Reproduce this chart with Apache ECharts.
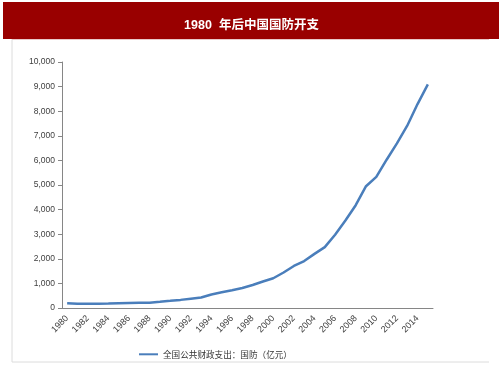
<!DOCTYPE html>
<html>
<head>
<meta charset="utf-8">
<script src="https://cdn.jsdelivr.net/npm/echarts@6/dist/echarts.min.js"></script>
<style>
  html, body { margin: 0; padding: 0; background: #fff; }
  #chart { width: 503px; height: 378px; }
</style>
</head>
<body>
<div id="chart"></div>
<script>
// 全国公共财政支出：国防（亿元）
const years = ['1980','1981','1982','1983','1984','1985','1986','1987','1988','1989',
  '1990','1991','1992','1993','1994','1995','1996','1997','1998','1999',
  '2000','2001','2002','2003','2004','2005','2006','2007','2008','2009',
  '2010','2011','2012','2013','2014','2015']
const defense = [194, 168, 176, 177, 181, 192, 201, 210, 218, 251,
  290, 330, 378, 426, 551, 637, 720, 813, 935, 1076,
  1208, 1442, 1708, 1908, 2200, 2475, 2979, 3555, 4179, 4951,
  5333, 6028, 6692, 7411, 8290, 9088]
const seriesName = '全国公共财政支出：国防（亿元）'

const chart = echarts.init(document.getElementById('chart'), null, { renderer: 'canvas' })

chart.setOption({
  animation: false,
  textStyle: { fontFamily: '"Liberation Sans", Arial, "Noto Sans CJK SC", sans-serif' },
  title: {
    text: '1980  年后中国国防开支',
    left: 'center',
    top: 14,
    textStyle: { color: '#fff', fontSize: 12.5, fontWeight: 'bold',
      fontFamily: '"Liberation Sans", Arial, "Noto Sans CJK SC", sans-serif' }
  },
  graphic: [
    { type: 'rect', z: -1, shape: { x: 3, y: 2, width: 496, height: 37 },
      style: { fill: '#990000' } },
    { type: 'polyline', shape: { points: [[12, 39], [12, 362], [489, 362]] },
      style: { stroke: '#dcdcdc', lineWidth: 1, fill: null } },
    { type: 'line', shape: { x1: 12, y1: 39.5, x2: 489, y2: 39.5 },
      style: { stroke: '#e8c8c8', lineWidth: 1 } }
  ],
  grid: { left: 62, right: 70, top: 62, bottom: 70 },
  legend: {
    data: [seriesName],
    left: 134,
    top: 345,
    icon: 'rect',
    itemWidth: 19,
    itemHeight: 2,
    itemGap: 2,
    textStyle: { fontSize: 8.6, color: '#333', fontFamily: '"Noto Sans CJK SC", sans-serif' }
  },
  xAxis: {
    type: 'category',
    data: years,
    boundaryGap: true,
    axisLine: { lineStyle: { color: '#868686', width: 1 } },
    axisTick: { interval: 1, length: 4, lineStyle: { color: '#868686' } },
    axisLabel: { interval: 1, rotate: 45, fontSize: 9, color: '#404040', margin: 9 }
  },
  yAxis: {
    type: 'value',
    min: 0,
    max: 10000,
    interval: 1000,
    axisLine: { show: true, lineStyle: { color: '#868686', width: 1 } },
    axisTick: { show: true, length: 4, lineStyle: { color: '#868686' } },
    splitLine: { show: false },
    axisLabel: {
      fontSize: 8.5, color: '#404040', margin: 7,
      formatter: v => v.toLocaleString('en-US')
    }
  },
  series: [{
    name: seriesName,
    type: 'line',
    data: defense,
    symbol: 'none',
    lineStyle: { color: '#4a7ebb', width: 2.5 },
    itemStyle: { color: '#4a7ebb' }
  }]
})
</script>
</body>
</html>
